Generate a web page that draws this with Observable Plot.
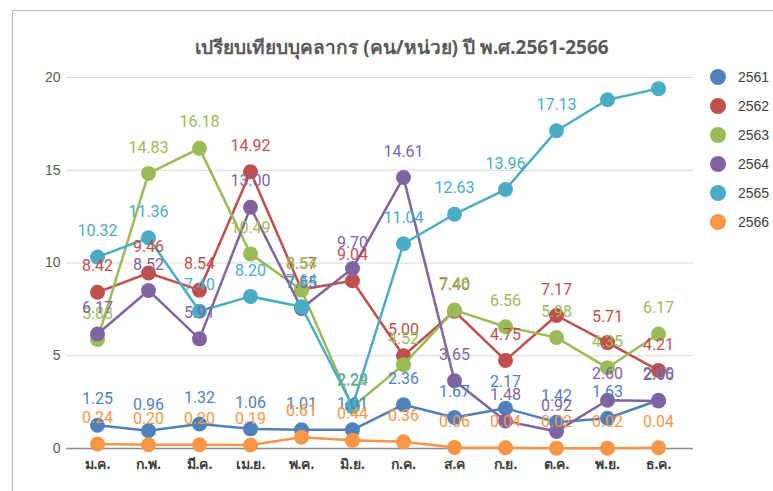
<!DOCTYPE html>
<html>
<head>
<meta charset="utf-8">
<script src="https://cdn.jsdelivr.net/npm/d3@7"></script>
<script src="https://cdn.jsdelivr.net/npm/@observablehq/plot@0.6"></script>
<style>
  html, body { margin: 0; padding: 0; background: #fff; }
  #page { position: relative; width: 773px; height: 491px; overflow: hidden; font-family: "Noto Sans", sans-serif; }
  #frame { position: absolute; left: 12px; top: 10px; width: 800px; height: 520px; border-left: 1px solid #b8b8b8; border-top: 1px solid #b8b8b8; }
  #title { position: absolute; left: 0; top: 34px; width: 804px; text-align: center; font-size: 19px; font-weight: bold; color: #595959; line-height: 26px; }
  #chart { position: absolute; left: 0; top: 0; }
  #legend { position: absolute; left: 708px; top: 0; }
  .li { position: absolute; left: 0; width: 70px; height: 20px; }
  .sw { position: absolute; left: 2px; top: 2px; width: 16px; height: 16px; border-radius: 50%; }
  .lt { position: absolute; left: 30px; top: 0; font-size: 14px; line-height: 20px; color: #404040; font-family: "Liberation Sans", sans-serif; }
</style>
</head>
<body>
<div id="page">
  <div id="frame"></div>
  <div id="chart"></div>
  <div id="title">เปรียบเทียบบุคลากร (คน/หน่วย) ปี พ.ศ.2561-2566</div>
  <div id="legend"></div>
</div>
<script>
const months = ["ม.ค.","ก.พ.","มี.ค.","เม.ย.","พ.ค.","มิ.ย.","ก.ค.","ส.ค","ก.ย.","ต.ค.","พ.ย.","ธ.ค."];
const years = ["2561","2562","2563","2564","2565","2566"];
const colors = ["#4F81BD","#C0504D","#9BBB59","#8064A2","#4BACC6","#F79646"];
const yTicks = [0, 5, 10, 15, 20];

const v2561 = [1.25, 0.96, 1.32, 1.06, 1.01, 1.01, 2.36, 1.67, 2.17, 1.42, 1.63, 2.60];
const v2562 = [8.42, 9.46, 8.54, 14.92, 8.57, 9.04, 5.00, 7.40, 4.75, 7.17, 5.71, 4.21];
const v2563 = [5.88, 14.83, 16.18, 10.49, 8.54, 2.24, 4.52, 7.46, 6.56, 5.98, 4.35, 6.17];
const v2564 = [6.17, 8.52, 5.91, 13.00, 7.55, 9.70, 14.61, 3.65, 1.48, 0.92, 2.60, 2.56];
const v2565 = [10.32, 11.36, 7.40, 8.20, 7.64, 2.29, 11.04, 12.63, 13.96, 17.13, 18.80, 19.40];
const v2566 = [0.24, 0.20, 0.20, 0.19, 0.61, 0.44, 0.36, 0.06, 0.04, 0.02, 0.02, 0.04];
// labels not shown in the reference (series year, month)
const hiddenLabels = [["2565","พ.ย."],["2565","ธ.ค."]];

const series = [v2561, v2562, v2563, v2564, v2565, v2566];
const data = years.map((yr, i) => series[i].map((v, j) => ({year: yr, month: months[j], value: v, color: colors[i]})));
const labelData = data.flat().filter(d => !hiddenLabels.some(([y, m]) => y === d.year && m === d.month));

const marks = [
  Plot.gridY(yTicks.filter(t => t > 0), {stroke: "#d9d9d9", strokeOpacity: 1, strokeWidth: 1.2}),
  Plot.ruleY([0], {stroke: "#8c8c8c", strokeWidth: 1.5}),
  Plot.axisY({ticks: yTicks, tickSize: 0, tickPadding: 6, fontSize: 14, fill: "#595959", label: null, fontFamily: "Liberation Sans, sans-serif"}),
  Plot.axisX({tickSize: 0, tickPadding: 11, fontSize: 14, fontWeight: "bold", fill: "#404040", label: null})
];
data.forEach((d, i) => {
  marks.push(Plot.lineY(d, {x: "month", y: "value", stroke: colors[i], strokeWidth: 2.5}));
  marks.push(Plot.dot(d, {x: "month", y: "value", fill: colors[i], r: 7.5}));
});
marks.push(Plot.text(labelData, {x: "month", y: "value", text: d => d.value.toFixed(2), fill: "color", dy: -26, fontSize: 16, fontFamily: "Roboto, sans-serif"}));

const chart = Plot.plot({
  width: 700,
  height: 491,
  marginTop: 77,
  marginBottom: 43,
  marginLeft: 66,
  marginRight: 7,
  style: {background: "transparent", overflow: "visible"},
  x: {type: "point", domain: months, padding: 0.5, insetLeft: 3, insetRight: 7.5},
  y: {domain: [0, 20]},
  marks
});
document.getElementById("chart").appendChild(chart);

const legend = document.getElementById("legend");
years.forEach((yr, i) => {
  const row = document.createElement("div");
  row.className = "li";
  row.style.top = (67 + i * 29) + "px";
  row.innerHTML = `<div class="sw" style="background:${colors[i]}"></div><div class="lt">${yr}</div>`;
  legend.appendChild(row);
});
</script>
</body>
</html>
